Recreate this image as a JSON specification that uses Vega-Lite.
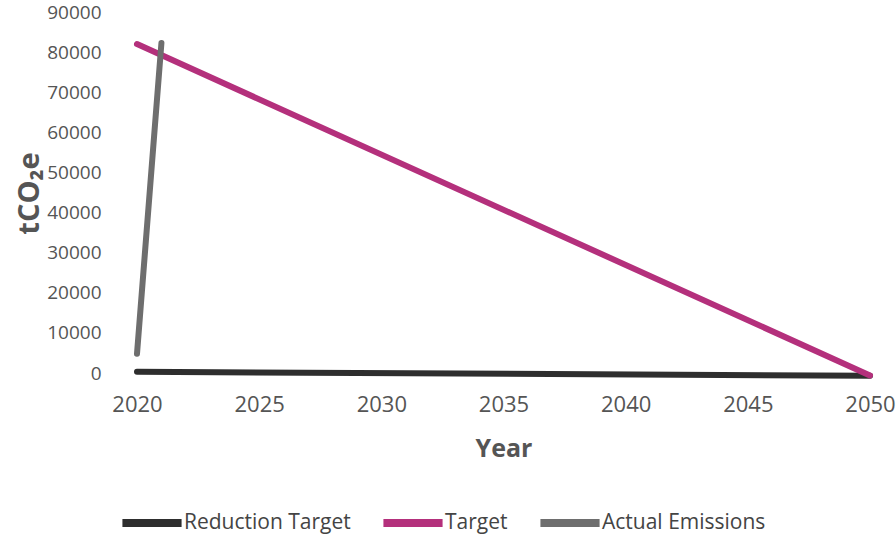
{
  "$schema": "https://vega.github.io/schema/vega-lite/v6.json",
  "autosize": {"type": "none"},
  "padding": {"left": 137, "top": 12, "right": 26, "bottom": 162},
  "width": 733,
  "height": 361,
  "background": "white",
  "config": {
    "view": {"stroke": null},
    "font": "Open Sans"
  },
  "data": {
    "values": [
      {"year": 2020, "value": 300, "series": "Reduction Target"},
      {"year": 2050, "value": -700, "series": "Reduction Target"},
      {"year": 2020, "value": 82000, "series": "Target"},
      {"year": 2050, "value": -600, "series": "Target"},
      {"year": 2020, "value": 4800, "series": "Actual Emissions"},
      {"year": 2021, "value": 82300, "series": "Actual Emissions"}
    ]
  },
  "mark": {"type": "line", "strokeWidth": 6, "strokeCap": "round"},
  "encoding": {
    "x": {
      "field": "year", "type": "quantitative",
      "scale": {"domain": [2020, 2050], "nice": false, "zero": false},
      "axis": {
        "title": "Year", "values": [2020, 2025, 2030, 2035, 2040, 2045, 2050],
        "format": "d", "grid": false, "domain": false, "ticks": false,
        "labelFont": "Open Sans", "labelFontSize": 22, "labelColor": "#555555",
        "labelPadding": 21, "labelFlush": false,
        "titleFont": "Open Sans", "titleFontSize": 25, "titleFontWeight": "bold",
        "titleColor": "#555555", "titlePadding": 21
      }
    },
    "y": {
      "field": "value", "type": "quantitative",
      "scale": {"domain": [0, 90000], "nice": false},
      "axis": {
        "title": "tCO₂e", "values": [0, 10000, 20000, 30000, 40000, 50000, 60000, 70000, 80000, 90000],
        "format": "d", "grid": false, "domain": false, "ticks": false,
        "labelFont": "Open Sans", "labelFontSize": 19, "labelColor": "#555555",
        "labelPadding": 36,
        "titleFont": "Open Sans", "titleFontSize": 29, "titleFontWeight": "bold",
        "titleColor": "#555555", "titleX": -108, "titleY": 181, "titleBaseline": "middle", "titleAngle": -90
      }
    },
    "color": {
      "field": "series", "type": "nominal",
      "scale": {
        "domain": ["Reduction Target", "Target", "Actual Emissions"],
        "range": ["#2e2e2e", "#b4307c", "#6e6e6e"]
      },
      "legend": {
        "title": null, "orient": "none", "direction": "horizontal",
        "legendX": -19, "legendY": 477,
        "symbolType": "stroke", "symbolSize": 3500, "symbolStrokeWidth": 8,
        "labelFont": "Open Sans", "labelFontSize": 21, "labelColor": "#444444",
        "labelOffset": -2, "labelLimit": 300, "columnPadding": 16
      }
    }
  }
}
